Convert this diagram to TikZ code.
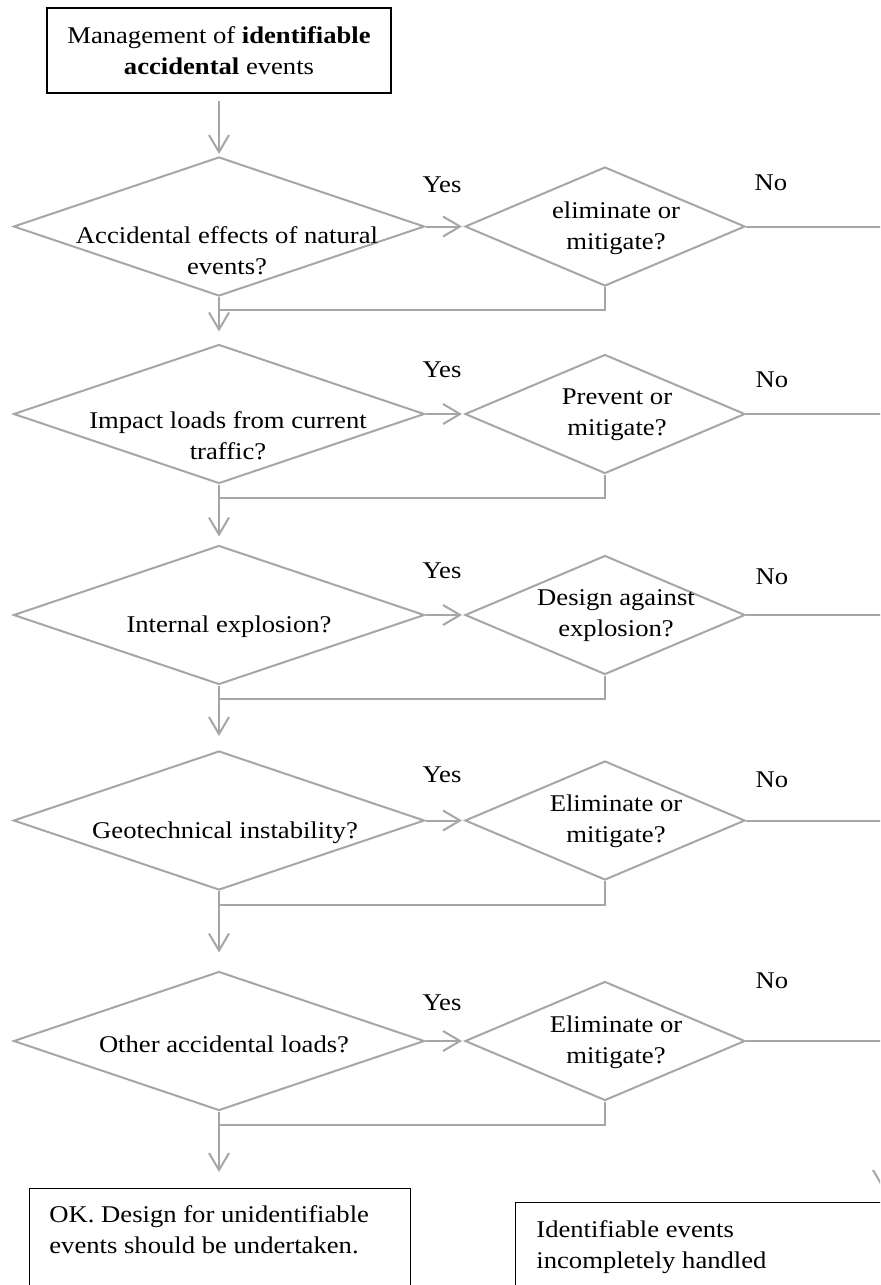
\documentclass[tikz,border=0pt]{standalone}
\usepackage{fontspec}
\setmainfont[FakeStretch=1.11]{Liberation Serif}
\usetikzlibrary{shapes.geometric,arrows.meta}
\definecolor{lg}{RGB}{166,166,166}
\begin{document}
\begin{tikzpicture}[x=0.5pt,y=-0.5pt,
  txt/.style={font=\fontsize{12pt}{15.5pt}\selectfont, inner sep=0pt, align=center},
  bigdia/.style={diamond, draw=lg, line width=1pt, minimum width=205.5pt, minimum height=69.5pt, inner sep=0pt},
  smalldia/.style={diamond, draw=lg, line width=1pt, minimum width=140pt, minimum height=59.5pt, inner sep=0pt},
  ln/.style={draw=lg, line width=1pt},
  arr/.style={ln, -{Straight Barb[length=8.5pt,width=10pt]}},
  box/.style={draw=black, line width=0.6pt, inner sep=0pt},
  ]
\useasboundingbox (0,0) rectangle (880,1285);
\clip (0,0) rectangle (880,1285);

% top box
\node[box, line width=1.1pt, minimum width=172pt, minimum height=42.5pt, txt] (top) at (219,50.5)
  {Management of \textbf{identifiable}\\\textbf{accidental} events};

% diamonds
\node[bigdia] (d1) at (219,226.5) {};
\node[bigdia] (d2) at (219,414) {};
\node[bigdia] (d3) at (219,615) {};
\node[bigdia] (d4) at (219,820.5) {};
\node[bigdia] (d5) at (219,1041) {};
\node[smalldia] (s1) at (605,226.5) {};
\node[smalldia] (s2) at (605,414) {};
\node[smalldia] (s3) at (605,615) {};
\node[smalldia] (s4) at (605,820.5) {};
\node[smalldia] (s5) at (605,1041) {};

% diamond texts
\node[txt, anchor=north] (t1) at (227,225.7) {Accidental effects of natural\\events?};
\node[txt, anchor=north] (t2) at (228,410.7) {Impact loads from current\\traffic?};
\node[txt, anchor=base] (t3) at (229,632) {Internal explosion?};
\node[txt, anchor=base] (t4) at (225,838) {Geotechnical instability?};
\node[txt, anchor=base] (t5) at (224,1052) {Other accidental loads?};
\node[txt, anchor=north] (u1) at (616,201.7) {eliminate or\\mitigate?};
\node[txt, anchor=north] (u2) at (617,388.7) {Prevent or\\mitigate?};
\node[txt, anchor=north] (u3) at (616,589.2) {Design against\\explosion?};
\node[txt, anchor=north] (u4) at (616,794.7) {Eliminate or\\mitigate?};
\node[txt, anchor=north] (u5) at (616,1015.2) {Eliminate or\\mitigate?};

% Yes / No labels
\node[txt, anchor=base] (y1) at (442,192) {Yes};
\node[txt, anchor=base] (y2) at (442,377) {Yes};
\node[txt, anchor=base] (y3) at (442,578) {Yes};
\node[txt, anchor=base] (y4) at (442,782) {Yes};
\node[txt, anchor=base] (y5) at (442,1010) {Yes};
\node[txt, anchor=base] (n1) at (771,190) {No};
\node[txt, anchor=base] (n2) at (772,387) {No};
\node[txt, anchor=base] (n3) at (772,584) {No};
\node[txt, anchor=base] (n4) at (772,787) {No};
\node[txt, anchor=base] (n5) at (772,988) {No};

% bottom boxes
\node[box, anchor=north west, minimum width=190.5pt, minimum height=56pt] (okbox) at (29,1188) {};
\node[txt, anchor=north west, align=left] (oktext) at (49,1205.6)
  {OK. Design for unidentifiable\\events should be undertaken.};
\node[box, anchor=north west, minimum width=192.5pt, minimum height=56pt] (badbox) at (515,1202) {};
\node[txt, anchor=north west, align=left] (badtext) at (536,1220.6)
  {Identifiable events\\incompletely handled};

% coordinates
\coordinate (rv) at (883,0);
\coordinate (rb) at (883,1202);
\coordinate (j1) at (219,310);
\coordinate (j2) at (219,498);
\coordinate (j3) at (219,699);
\coordinate (j4) at (219,905);
\coordinate (j5) at (219,1125);

% main flow
\draw[arr, shorten <=3.5pt, shorten >=1pt] (top.south) -- (d1.north);
\draw[arr, shorten >=6pt] (d1.south) -- (d2.north);
\draw[arr, shorten >=4pt] (d2.south) -- (d3.north);
\draw[arr, shorten >=7pt] (d3.south) -- (d4.north);
\draw[arr, shorten >=9pt] (d4.south) -- (d5.north);
\draw[arr, shorten >=8pt] (d5.south) -- (d5.south |- okbox.north);

% yes arrows, no lines, return lines
\foreach \i in {1,...,5}{
  \draw[arr, shorten >=1pt] (d\i.east) -- (s\i.west);
  \draw[ln] (s\i.east) -- (s\i.east -| rv);
  \draw[ln] (s\i.south) |- (j\i);
}
% right vertical (mostly outside the frame)
\draw[arr, shorten >=6.5pt] (s1.east -| rv) -- (rb);
\end{tikzpicture}
\end{document}
